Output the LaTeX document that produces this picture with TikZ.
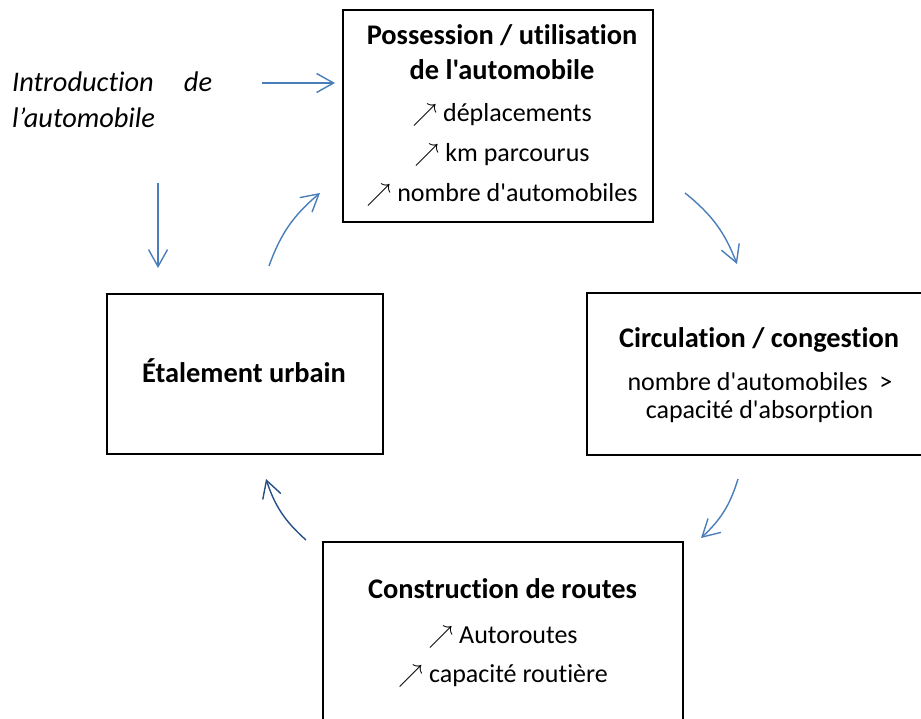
\documentclass[tikz,border=0pt]{standalone}
\usepackage{fontspec}
\setmainfont{Carlito}[Ligatures={TeXOff,CommonOff},RawFeature={-liga;-calt;-clig;-dlig}]
\usetikzlibrary{arrows.meta}

\definecolor{flowblue}{RGB}{74,126,187}
\definecolor{flowdark}{RGB}{40,78,135}
\newcommand{\hausse}{{\fontsize{24}{24}\selectfont$\nearrow$}\hspace{6pt}}

\begin{document}
\begin{tikzpicture}[x=1pt,y=-1pt,
 box/.style={draw,line width=1.8pt,inner sep=0pt},
 title/.style={anchor=base,inner sep=0pt,font=\fontsize{28.4}{34}\selectfont\bfseries},
 body/.style={anchor=base,inner sep=0pt,font=\fontsize{26}{30}\selectfont},
 intro/.style={anchor=base west,inner sep=0pt,font=\fontsize{28.4}{34}\selectfont\itshape},
 link/.style={flowblue,line width=1.4pt,-{Straight Barb[length=17pt,width=19pt]}}]
  \useasboundingbox (0,0) rectangle (921,719);
  \clip (0,0) rectangle (921,719);

  % boxes
  \node[box,minimum width=310pt,minimum height=212pt] (poss) at (498,116) {};
  \node[box,minimum width=345pt,minimum height=162pt] (circ) at (759.5,374) {};
  \node[box,minimum width=276pt,minimum height=160pt] (etal) at (245,374) {};
  \node[box,minimum width=360pt,minimum height=198pt] (constr) at (503,641) {};

  % texts
  \node[title] (possT1) at (502,45) {Possession / utilisation};
  \node[title] (possT2) at (502,80) {de l'automobile};
  \foreach \y/\txt [count=\i] in {122/déplacements, 162/km parcourus, 202/nombre d'automobiles}
   \node[body] (poss\i) at (502,\y) {\hausse\txt};

  \node[title] (circT) at (759,347) {Circulation / congestion};
  \node[body] (circ1) at (760,390) {nombre d'automobiles~~>};
  \node[body] (circ2) at (759.5,418) {capacité d'absorption};

  \node[title] (etalT) at (244,382) {Étalement urbain};

  \node[title] (constrT) at (502.5,598) {Construction de routes};
  \node[body] (constr1) at (503,643) {\hausse Autoroutes};
  \node[body] (constr2) at (503,682) {\hausse capacité routière};

  \node[intro] (introA) at (12,92) {\makebox[200pt][s]{Introduction de}};
  \node[intro] (introB) at (12,128) {l’automobile};

  % arrow ends
  \coordinate (inH0) at (262,83);   \coordinate (inH1) at (335,83);
  \coordinate (inV0) at (158,183);  \coordinate (inV1) at (158,268);
  \coordinate (ep0) at (269,266);   \coordinate (ep1) at (320,193);
  \coordinate (pc0) at (685,193);   \coordinate (pc1) at (737,264);
  \coordinate (cc0) at (738,479);   \coordinate (cc1) at (701,538);
  \coordinate (ce0) at (306,540);   \coordinate (ce1) at (266,479);

  \draw[link] (inH0) -- (inH1);
  \draw[link] (inV0) -- (inV1);
  \draw[link] (ep0) to[bend left=15] (ep1);
  \draw[link] (pc0) to[bend left=15] (pc1);
  \draw[link] (cc0) to[bend left=15] (cc1);
  \draw[link,flowdark] (ce0) to[bend left=15] (ce1);
\end{tikzpicture}
\end{document}
